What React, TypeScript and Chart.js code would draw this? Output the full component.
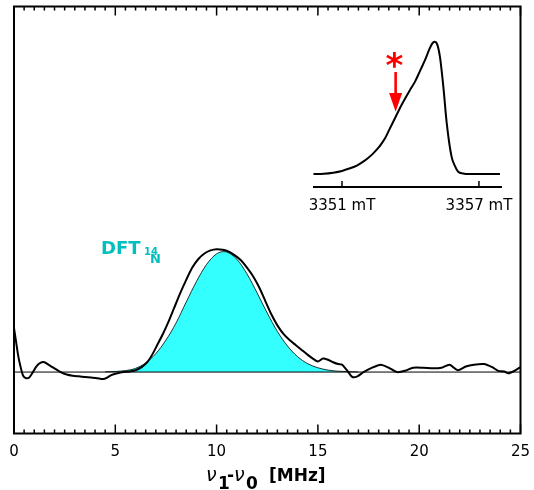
import React, { useEffect, useRef } from 'react';
import { Chart, registerables } from 'chart.js';

Chart.register(...registerables);

const FONT = 'DejaVu Sans';

// ---- main spectrum (nu1 - nu0 in MHz, normalised amplitude) ----
const signalMHz = [0, 0.1, 0.2, 0.3, 0.45, 0.6, 0.75, 0.9, 1.1, 1.3, 1.5, 1.7, 2.0, 2.3, 2.6, 2.9, 3.2, 3.5, 3.8, 4.1, 4.4, 4.6, 4.8, 5.1, 5.4, 5.7, 6.0, 6.3, 6.6, 6.85, 7.1, 7.35, 7.6, 7.9, 8.2, 8.5, 8.8, 9.1, 9.4, 9.7, 10.0, 10.3, 10.6, 10.9, 11.2, 11.5, 11.8, 12.1, 12.4, 12.7, 13.0, 13.3, 13.6, 13.9, 14.2, 14.5, 14.75, 15.0, 15.25, 15.5, 15.75, 16.0, 16.2, 16.5, 16.7, 16.95, 17.25, 17.6, 18.1, 18.5, 18.9, 19.3, 19.7, 20.2, 20.7, 21.1, 21.5, 21.9, 22.3, 22.7, 23.2, 23.6, 23.9, 24.2, 24.4, 24.7, 25.0];
const signalAmp = [0.36, 0.25, 0.14, 0.06, -0.03, -0.05, -0.045, -0.01, 0.045, 0.075, 0.08, 0.06, 0.03, 0.0, -0.02, -0.03, -0.035, -0.04, -0.045, -0.05, -0.057, -0.045, -0.025, -0.01, 0.0, 0.005, 0.015, 0.04, 0.085, 0.15, 0.23, 0.31, 0.40, 0.52, 0.64, 0.75, 0.85, 0.92, 0.965, 0.99, 1.0, 0.995, 0.98, 0.95, 0.91, 0.85, 0.78, 0.69, 0.58, 0.47, 0.38, 0.31, 0.26, 0.22, 0.18, 0.14, 0.11, 0.085, 0.11, 0.1, 0.08, 0.065, 0.06, 0.0, -0.04, -0.035, 0.0, 0.03, 0.06, 0.035, 0.0, 0.01, 0.035, 0.035, 0.03, 0.035, 0.06, 0.015, 0.045, 0.06, 0.065, 0.04, 0.01, 0.005, -0.01, 0.01, 0.04];

// DFT (14N) simulated band
const dftMHz = [4.5, 5.0, 5.5, 6.0, 6.5, 7.0, 7.5, 8.0, 8.5, 9.0, 9.5, 10.0, 10.35, 10.5, 11.0, 11.5, 12.0, 12.5, 13.0, 13.5, 14.0, 14.5, 15.0, 15.5, 16.0, 16.5, 17.0];
const dftAmp = [0.002, 0.005, 0.012, 0.03, 0.075, 0.15, 0.26, 0.40, 0.57, 0.735, 0.875, 0.962, 0.98, 0.977, 0.918, 0.799, 0.644, 0.480, 0.331, 0.212, 0.125, 0.068, 0.035, 0.016, 0.007, 0.003, 0.001];

const baselineMHz = [0, 25];
const baselineAmp = [0, 0];

const xTickLabels = [0, 5, 10, 15, 20, 25];
const xMinorStep = 0.5;

// ---- inset field-swept spectrum (mT) ----
const insetField = [3349.75, 3350.2, 3350.62, 3351.0, 3351.35, 3351.65, 3351.93, 3352.17, 3352.37, 3352.57, 3352.74, 3352.9, 3353.03, 3353.32, 3353.61, 3353.98, 3354.2, 3354.42, 3354.64, 3354.82, 3354.95, 3355.05, 3355.15, 3355.29, 3355.44, 3355.59, 3355.8, 3355.95, 3356.09, 3356.3, 3356.6, 3357.2, 3357.92];
const insetAmp = [0, 0.002, 0.01, 0.023, 0.043, 0.064, 0.093, 0.125, 0.156, 0.193, 0.232, 0.274, 0.32, 0.421, 0.522, 0.635, 0.698, 0.78, 0.862, 0.94, 0.985, 1.0, 0.988, 0.887, 0.66, 0.383, 0.131, 0.06, 0.017, 0.004, 0.0, 0.0, 0.0];
const insetTickLabels = [3351, 3357];
const markerField = 3353.35;

const toPoints = (xs: number[], ys: number[]) => xs.map((x, i) => ({ x, y: ys[i] }));

const mainDecor = {
  id: 'mainDecor',
  afterDatasetsDraw(chart: any) {
    const { ctx, chartArea, scales } = chart;
    const { left, right, top, bottom } = chartArea;
    const x = scales.x;
    ctx.save();
    ctx.strokeStyle = '#000';
    ctx.lineWidth = 1.5;
    const n = Math.round((x.max - x.min) / xMinorStep);
    for (let i = 0; i <= n; i++) {
      const v = x.min + i * xMinorStep;
      const px = x.getPixelForValue(v);
      const major = xTickLabels.includes(v);
      const len = major ? 9 : 4;
      ctx.beginPath();
      ctx.moveTo(px, bottom);
      ctx.lineTo(px, bottom - len);
      ctx.moveTo(px, top);
      ctx.lineTo(px, top + len);
      ctx.stroke();
    }
    ctx.lineWidth = 2;
    ctx.strokeRect(left, top, right - left, bottom - top);
    ctx.restore();
  },
};

const insetDecor = {
  id: 'insetDecor',
  afterDatasetsDraw(chart: any) {
    const { ctx, chartArea, scales } = chart;
    const { x, y } = scales;
    ctx.save();
    ctx.strokeStyle = '#000';
    ctx.lineWidth = 2;
    ctx.beginPath();
    ctx.moveTo(chartArea.left, chartArea.bottom);
    ctx.lineTo(chartArea.right, chartArea.bottom);
    ctx.stroke();
    ctx.lineWidth = 1.5;
    insetTickLabels.forEach((v) => {
      const px = x.getPixelForValue(v);
      ctx.beginPath();
      ctx.moveTo(px, chartArea.bottom);
      ctx.lineTo(px, chartArea.bottom - 6);
      ctx.stroke();
    });
    const ax = x.getPixelForValue(markerField);
    const yTop = y.getPixelForValue(0.771);
    const yNeck = y.getPixelForValue(0.612);
    const yTip = y.getPixelForValue(0.471);
    ctx.fillStyle = '#ff0000';
    ctx.fillRect(ax - 1.3, yTop, 2.6, yNeck - yTop + 1);
    ctx.beginPath();
    ctx.moveTo(ax - 6.5, yNeck);
    ctx.lineTo(ax + 6.5, yNeck);
    ctx.lineTo(ax, yTip);
    ctx.closePath();
    ctx.fill();
    ctx.restore();
  },
};

const noSidePadding = (s: any, h: number) => {
  s.height = h;
  s.paddingLeft = 0;
  s.paddingRight = 0;
};

const ASC = 0.928;
const Txt = ({ children, left, baseline, size, weight = 'normal', style = 'normal', color = '#000' }: any) => (
  <span
    style={{
      position: 'absolute',
      left,
      top: baseline - ASC * size,
      fontFamily: FONT,
      fontSize: size,
      fontWeight: weight,
      fontStyle: style,
      lineHeight: 'normal',
      color,
      whiteSpace: 'nowrap',
    }}
  >
    {children}
  </span>
);

export default function App() {
  const mainRef = useRef<HTMLCanvasElement>(null);
  const insetRef = useRef<HTMLCanvasElement>(null);

  useEffect(() => {
    const main = new Chart(mainRef.current as HTMLCanvasElement, {
      type: 'line',
      data: {
        datasets: [
          {
            label: 'signal',
            data: toPoints(signalMHz, signalAmp),
            borderColor: '#000',
            borderWidth: 2,
            pointRadius: 0,
            tension: 0.25,
            fill: false,
            order: 0,
          },
          {
            label: 'baseline',
            data: toPoints(baselineMHz, baselineAmp),
            borderColor: '#000',
            borderWidth: 1,
            pointRadius: 0,
            fill: false,
            order: 1,
          },
          {
            label: 'DFT 14N',
            data: toPoints(dftMHz, dftAmp),
            borderColor: '#000',
            borderWidth: 0.8,
            backgroundColor: '#33ffff',
            pointRadius: 0,
            cubicInterpolationMode: 'monotone',
            fill: 'origin',
            order: 2,
          },
        ],
      } as any,
      options: {
        animation: false,
        responsive: false,
        events: [],
        layout: { padding: { left: 14, right: 13.5, top: 6.5, bottom: 0 } },
        plugins: { legend: { display: false }, tooltip: { enabled: false } },
        scales: {
          x: {
            type: 'linear',
            min: 0,
            max: 25,
            afterBuildTicks: (s: any) => {
              s.ticks = xTickLabels.map((v) => ({ value: v }));
            },
            ticks: {
              font: { family: FONT, size: 15 },
              color: '#000',
              padding: 10,
              maxRotation: 0,
              autoSkip: false,
            },
            grid: { display: false, drawTicks: false },
            border: { display: false },
            afterFit: (s: any) => noSidePadding(s, 56.5),
          },
          y: { display: false, min: -0.5, max: 2.975 },
        },
      } as any,
      plugins: [mainDecor],
    });

    const inset = new Chart(insetRef.current as HTMLCanvasElement, {
      type: 'line',
      data: {
        datasets: [
          {
            label: 'field sweep',
            data: toPoints(insetField, insetAmp),
            borderColor: '#000',
            borderWidth: 2,
            pointRadius: 0,
            cubicInterpolationMode: 'monotone',
            fill: false,
          },
        ],
      } as any,
      options: {
        animation: false,
        responsive: false,
        events: [],
        layout: { padding: { left: 23, right: 32, top: 15, bottom: 0 } },
        plugins: { legend: { display: false }, tooltip: { enabled: false } },
        scales: {
          x: {
            type: 'linear',
            min: 3349.73,
            max: 3358.01,
            afterBuildTicks: (s: any) => {
              s.ticks = insetTickLabels.map((v) => ({ value: v }));
            },
            ticks: {
              callback: (v: any) => `${v} mT`,
              font: { family: FONT, size: 15 },
              color: '#000',
              padding: 10,
              maxRotation: 0,
              autoSkip: false,
            },
            grid: { display: false, drawTicks: false },
            border: { display: false },
            afterFit: (s: any) => noSidePadding(s, 33),
          },
          y: { display: false, min: -0.0983, max: 1.0506 },
        },
      } as any,
      plugins: [insetDecor],
    });

    return () => {
      main.destroy();
      inset.destroy();
    };
  }, []);

  const cyanText = '#00bfbf';

  return (
    <div style={{ position: 'absolute', left: 0, top: 0, width: 534, height: 490, background: '#fff', overflow: 'hidden' }}>
      <canvas ref={mainRef} width={534} height={490} style={{ position: 'absolute', left: 0, top: 0 }} />
      <canvas ref={insetRef} width={244} height={200} style={{ position: 'absolute', left: 290, top: 20 }} />

      {/* DFT label */}
      <Txt left={101} baseline={253.3} size={18} weight="bold" color={cyanText}>DFT</Txt>
      <Txt left={144} baseline={255} size={10} weight="bold" color={cyanText}>14</Txt>
      <Txt left={150} baseline={263.3} size={13} weight="bold" color={cyanText}>N</Txt>

      {/* asterisk marker in inset */}
      <Txt left={385.5} baseline={76.5} size={34} weight="bold" color="#ff0000">*</Txt>

      {/* x-axis title */}
      <Txt left={206} baseline={480.5} size={19} style="italic">ν</Txt>
      <Txt left={218} baseline={488.7} size={17} weight="bold">1</Txt>
      <Txt left={227} baseline={480.5} size={17} weight="bold">-</Txt>
      <Txt left={234} baseline={480.5} size={19} style="italic">ν</Txt>
      <Txt left={246} baseline={488.7} size={17} weight="bold">0</Txt>
      <Txt left={269} baseline={480.5} size={17} weight="bold">[MHz]</Txt>
    </div>
  );
}
